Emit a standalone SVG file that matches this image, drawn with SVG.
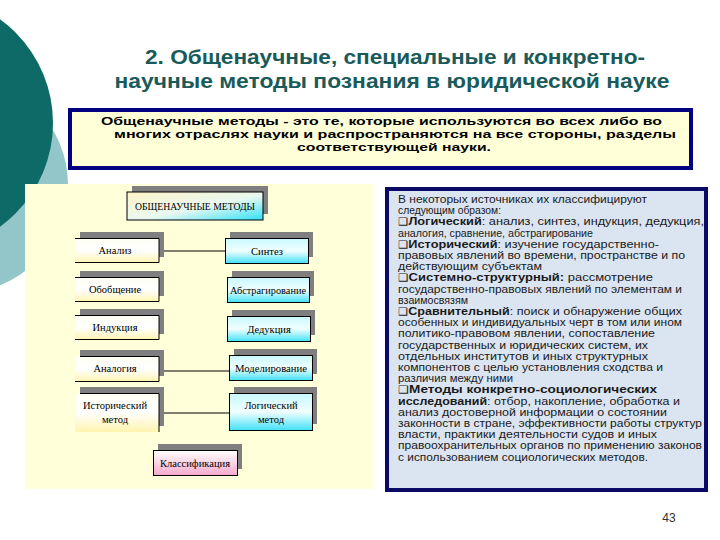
<svg xmlns="http://www.w3.org/2000/svg" width="720" height="540" viewBox="0 0 720 540">
<defs>
<linearGradient id="gHead" x1="0" y1="0" x2="1" y2="1"><stop offset="0" stop-color="#fff4c8"/><stop offset="0.55" stop-color="#e8f8f0"/><stop offset="1" stop-color="#30e0f8"/></linearGradient>
<linearGradient id="gLeft" x1="0" y1="0" x2="0" y2="1"><stop offset="0" stop-color="#fffff4"/><stop offset="0.5" stop-color="#ffffff"/><stop offset="1" stop-color="#fff4b0"/></linearGradient>
<linearGradient id="gRight" x1="0" y1="0" x2="0" y2="1"><stop offset="0" stop-color="#c8f8ff"/><stop offset="0.5" stop-color="#f0ffff"/><stop offset="1" stop-color="#40e0f8"/></linearGradient>
<linearGradient id="gPink" x1="0" y1="0" x2="0" y2="1"><stop offset="0" stop-color="#ffffff"/><stop offset="1" stop-color="#f4a8cc"/></linearGradient>
<style>
.title{font-family:"Liberation Sans",Arial,sans-serif;font-weight:bold;font-size:21px;fill:#1a5a5a;text-anchor:middle}
.def{font-family:"Liberation Sans",Arial,sans-serif;font-weight:bold;font-size:11.5px;fill:#000}
.body{font-family:"Liberation Sans",Arial,sans-serif;font-size:11px;fill:#1a1a1a}
.b{font-weight:bold}
.bul{font-family:"DejaVu Sans",sans-serif;font-size:10px}
.nt{font-family:"Liberation Serif","Times New Roman",serif;font-size:10.5px;fill:#000;text-anchor:middle}
.sh{fill:#7f7f7f}
.edge{stroke:#000;stroke-width:1;fill:none}
.lb{stroke:#000;stroke-width:1;fill:none}
</style>
</defs>
<rect width="720" height="540" fill="#ffffff"/>
<!-- decoration -->
<circle cx="-40" cy="185" r="108" fill="#92c6c8"/>
<circle cx="-75" cy="123" r="128" fill="#0e6a66"/>
<!-- title -->
<text class="title" x="395" y="64" textLength="500" lengthAdjust="spacingAndGlyphs">2. Общенаучные, специальные и конкретно-</text>
<text class="title" x="392" y="88" textLength="555" lengthAdjust="spacingAndGlyphs">научные методы познания в юридической науке</text>
<!-- definition box -->
<g id="definition">
<rect x="70" y="110" width="621" height="58" fill="#ffffd8" stroke="#000080" stroke-width="4"/>
<text class="def" x="101" y="124.5" textLength="561" lengthAdjust="spacingAndGlyphs">Общенаучные методы - это те, которые используются во всех либо во</text>
<text class="def" x="114" y="137.5" textLength="562" lengthAdjust="spacingAndGlyphs">многих отраслях науки и распространяются на все стороны, разделы</text>
<text class="def" x="297" y="150.5" textLength="194" lengthAdjust="spacingAndGlyphs">соответствующей науки.</text>
</g>
<!-- left panel -->
<rect x="25" y="184" width="348" height="305" fill="#ffffda"/>
<!-- connectors -->
<g id="connectors">
<line class="edge" x1="159" y1="251" x2="225" y2="251"/>
<line class="edge" x1="159" y1="371" x2="229" y2="371"/>
<line class="edge" x1="159" y1="413" x2="229" y2="413"/>
</g>
<!-- nodes -->
<g id="n-header">
<rect class="sh" x="132" y="186" width="136" height="28"/>
<rect x="127" y="192" width="136" height="28" fill="url(#gHead)" stroke="#000" stroke-width="1"/>
<text class="nt" x="195" y="210" textLength="120" lengthAdjust="spacingAndGlyphs">ОБЩЕНАУЧНЫЕ МЕТОДЫ</text>
</g>
<g id="n-analiz">
<rect class="sh" x="80" y="232" width="84" height="25"/>
<rect x="75" y="238" width="84" height="25" fill="url(#gLeft)"/>
<path class="lb" d="M75 238.5H159V262.5H75"/>
<text class="nt" x="115" y="254">Анализ</text>
</g>
<g id="n-obobshenie">
<rect class="sh" x="80" y="271" width="84" height="25"/>
<rect x="75" y="277" width="84" height="25" fill="url(#gLeft)"/>
<path class="lb" d="M75 277.5H159V301.5H75"/>
<text class="nt" x="115" y="293">Обобщение</text>
</g>
<g id="n-indukciya">
<rect class="sh" x="80" y="309" width="84" height="25"/>
<rect x="75" y="315" width="84" height="25" fill="url(#gLeft)"/>
<path class="lb" d="M75 315.5H159V339.5H75"/>
<text class="nt" x="115" y="331">Индукция</text>
</g>
<g id="n-analogiya">
<rect class="sh" x="80" y="350" width="84" height="26"/>
<rect x="75" y="356" width="84" height="26" fill="url(#gLeft)"/>
<path class="lb" d="M80 356.5H159V381.5H75"/>
<text class="nt" x="115" y="372">Аналогия</text>
</g>
<g id="n-istoricheskiy">
<rect class="sh" x="80" y="387" width="84" height="39"/>
<rect x="75" y="393" width="84" height="39" fill="url(#gLeft)"/>
<path class="lb" d="M80 393.5H159V432"/>
<text class="nt" x="115" y="409">Исторический</text>
<text class="nt" x="115" y="423">метод</text>
</g>
<g id="n-sintez">
<rect class="sh" x="230" y="232" width="83" height="25"/>
<rect x="225.5" y="238.5" width="83" height="25" fill="url(#gRight)" stroke="#000" stroke-width="1"/>
<text class="nt" x="267" y="255">Синтез</text>
</g>
<g id="n-abstr">
<rect class="sh" x="232" y="271" width="82" height="25"/>
<rect x="227.5" y="277.5" width="82" height="25" fill="url(#gRight)" stroke="#000" stroke-width="1"/>
<text class="nt" x="268" y="294" textLength="76" lengthAdjust="spacingAndGlyphs">Абстрагирование</text>
</g>
<g id="n-deduk">
<rect class="sh" x="232" y="310" width="83" height="25"/>
<rect x="227.5" y="316.5" width="83" height="25" fill="url(#gRight)" stroke="#000" stroke-width="1"/>
<text class="nt" x="269" y="333">Дедукция</text>
</g>
<g id="n-model">
<rect class="sh" x="234" y="349" width="83" height="25"/>
<rect x="229.5" y="355.5" width="83" height="25" fill="url(#gRight)" stroke="#000" stroke-width="1"/>
<text class="nt" x="271" y="372" textLength="72" lengthAdjust="spacingAndGlyphs">Моделирование</text>
</g>
<g id="n-logich">
<rect class="sh" x="234" y="387" width="83" height="37"/>
<rect x="229.5" y="393.5" width="83" height="37" fill="url(#gRight)" stroke="#000" stroke-width="1"/>
<text class="nt" x="271" y="409">Логический</text>
<text class="nt" x="271" y="423">метод</text>
</g>
<g id="n-klass">
<rect class="sh" x="158" y="444" width="84" height="25"/>
<rect x="153.5" y="450.5" width="84" height="25" fill="url(#gPink)" stroke="#000" stroke-width="1"/>
<text class="nt" x="195" y="467">Классификация</text>
</g>
<!-- right text box -->
<g id="classification-text">
<rect x="387" y="189" width="319" height="301" fill="#dbe5f1" stroke="#0a0a66" stroke-width="4"/>
<text class="body" x="398" y="203" textLength="249" lengthAdjust="spacingAndGlyphs">В некоторых источниках их классифицируют</text>
<text class="body" x="398" y="214.2" textLength="103" lengthAdjust="spacingAndGlyphs">следующим образом:</text>
<text class="body" x="398" y="225.4" textLength="306" lengthAdjust="spacingAndGlyphs"><tspan class="bul">❑</tspan><tspan class="b">Логический</tspan>: анализ, синтез, индукция, дедукция,</text>
<text class="body" x="398" y="236.6" textLength="195" lengthAdjust="spacingAndGlyphs">аналогия, сравнение, абстрагирование</text>
<text class="body" x="398" y="247.8" textLength="261" lengthAdjust="spacingAndGlyphs"><tspan class="bul">❑</tspan><tspan class="b">Исторический</tspan>:  изучение государственно-</text>
<text class="body" x="398" y="259" textLength="287" lengthAdjust="spacingAndGlyphs">правовых явлений во времени, пространстве и по</text>
<text class="body" x="398" y="270.2" textLength="144" lengthAdjust="spacingAndGlyphs">действующим субъектам</text>
<text class="body" x="398" y="281.4" textLength="255" lengthAdjust="spacingAndGlyphs"><tspan class="bul">❑</tspan><tspan class="b">Системно-структурный:</tspan>  рассмотрение</text>
<text class="body" x="398" y="292.6" textLength="284" lengthAdjust="spacingAndGlyphs">государственно-правовых явлений по элементам и</text>
<text class="body" x="398" y="303.8" textLength="70" lengthAdjust="spacingAndGlyphs">взаимосвязям</text>
<text class="body" x="398" y="315" textLength="284" lengthAdjust="spacingAndGlyphs"><tspan class="bul">❑</tspan><tspan class="b">Сравнительный</tspan>: поиск и обнаружение общих</text>
<text class="body" x="398" y="326.2" textLength="284" lengthAdjust="spacingAndGlyphs">особенных и индивидуальных черт в том или ином</text>
<text class="body" x="398" y="337.4" textLength="257" lengthAdjust="spacingAndGlyphs">политико-правовом явлении, сопоставление</text>
<text class="body" x="398" y="348.6" textLength="250" lengthAdjust="spacingAndGlyphs">государственных и юридических систем, их</text>
<text class="body" x="398" y="359.8" textLength="250" lengthAdjust="spacingAndGlyphs">отдельных институтов и иных структурных</text>
<text class="body" x="398" y="371" textLength="265" lengthAdjust="spacingAndGlyphs">компонентов с целью установления сходства и</text>
<text class="body" x="398" y="382.2" textLength="115" lengthAdjust="spacingAndGlyphs">различия между ними</text>
<text class="body" x="398" y="393.4" textLength="259" lengthAdjust="spacingAndGlyphs"><tspan class="bul">❑</tspan><tspan class="b">Методы конкретно-социологических</tspan></text>
<text class="body" x="398" y="404.6" textLength="282" lengthAdjust="spacingAndGlyphs"><tspan class="b">исследований</tspan>: отбор, накопление, обработка и</text>
<text class="body" x="398" y="415.8" textLength="269" lengthAdjust="spacingAndGlyphs">анализ достоверной информации о состоянии</text>
<text class="body" x="398" y="427" textLength="304" lengthAdjust="spacingAndGlyphs">законности в стране, эффективности работы структур</text>
<text class="body" x="398" y="438.2" textLength="259" lengthAdjust="spacingAndGlyphs">власти, практики деятельности судов и иных</text>
<text class="body" x="398" y="449.4" textLength="304" lengthAdjust="spacingAndGlyphs">правоохранительных органов по применению законов</text>
<text class="body" x="398" y="460.6" textLength="250" lengthAdjust="spacingAndGlyphs">с использованием социологических методов.</text>
</g>
<text x="669" y="522" font-family="Liberation Sans, Arial, sans-serif" font-size="12" fill="#333" text-anchor="middle">43</text>
</svg>
